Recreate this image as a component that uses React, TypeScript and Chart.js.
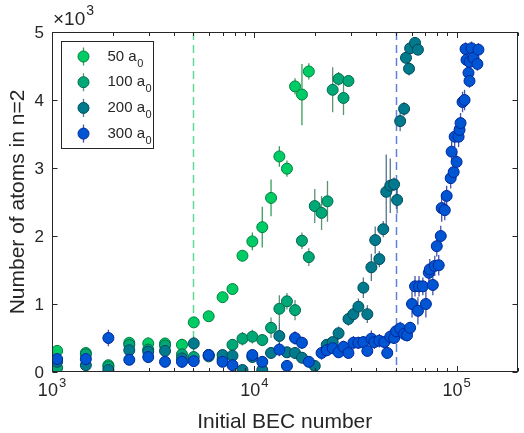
import React, { useEffect, useRef } from 'react';
import { Chart, registerables } from 'chart.js';

Chart.register(...registerables);

const FONT = '"Liberation Sans", Arial, Helvetica, sans-serif';
const AXIS = '#262626';

// ---- data ----
const legendNumbers = ['50', '100', '200', '300'];
const seriesLabels = ['50 a₀', '100 a₀', '200 a₀', '300 a₀'];

const n50 = [1060, 1470, 1900, 2410, 2990, 3620, 4390, 5020, 5950, 6970, 7800, 8740, 9780, 10950, 12100, 13300, 14500, 15900, 17200, 18600];
const y50 = [310, 280, 100, 430, 420, 420, 400, 730, 820, 1100, 1220, 1710, 1920, 2130, 2560, 3170, 2990, 4200, 4080, 4420];
const e50 = [80, 60, 60, 80, 90, 80, 90, 70, 70, 60, 60, 80, 130, 300, 270, 150, 120, 120, 450, 120];

const n100 = [1060, 1470, 1900, 2410, 2990, 3620, 4390, 5020, 5950, 6970, 7800, 8740, 9780, 10950, 12100, 13300, 14500, 15900, 17200, 18600, 19900, 21500, 23000, 24400, 26100, 27600, 29200];
const y100 = [60, 260, 80, 400, 330, 390, 260, 220, 250, 190, 400, 490, 520, 470, 650, 930, 1040, 910, 1930, 1690, 2440, 2340, 2510, 4150, 4310, 4030, 4280];
const e100 = [70, 80, 60, 70, 70, 70, 80, 90, 80, 80, 80, 100, 100, 90, 150, 200, 120, 150, 120, 130, 250, 250, 300, 330, 100, 250, 80];

const n200 = [1060, 1470, 1900, 2410, 2990, 3620, 4390, 5020, 5950, 6970, 7800, 8740, 9780, 10950, 12100, 13300, 14500, 15900, 17200, 19900, 22800, 24400, 26100, 29200, 30900, 32700, 34600, 36200, 37900, 39600, 41500, 43400, 44900, 47000, 49100, 50800, 52600, 55000, 56200, 58200, 58900, 62300, 64400];
const y200 = [150, 100, 30, 320, 300, 310, 200, 420, 230, 250, 240, 30, 220, 30, 280, 530, 290, 280, 210, 90, 400, 440, 570, 780, 850, 960, 1240, 850, 1540, 1940, 1660, 2100, 2650, 2740, 2760, 2530, 3690, 3870, 4620, 4460, 4760, 4840, 4740];
const e200 = [60, 70, 50, 60, 60, 70, 60, 100, 60, 60, 60, 40, 60, 40, 80, 200, 80, 80, 80, 60, 80, 80, 100, 100, 100, 120, 150, 130, 200, 200, 120, 120, 550, 400, 100, 200, 150, 100, 80, 100, 80, 60, 60];

const n300 = [1060, 1470, 1900, 2410, 2990, 3620, 4390, 5020, 5950, 6970, 7800, 9780, 10950, 13300, 14500, 15900, 17200, 18600, 21500, 22800, 24400, 26100, 27600, 29200, 30900, 32700, 34600, 36200, 37900, 39200, 41500, 43900, 45400, 47000, 49100, 50200, 52600, 55000, 56900, 58900, 60200, 62300, 64400, 65200, 68100, 70500, 72900, 73700, 76300, 78000, 79800, 81600, 83500, 84400, 87400, 89300, 93500, 94500, 96700, 97800, 100000, 102300, 103400, 104600, 107000, 109500, 110700, 111900, 114500, 115800, 116000, 118500, 121200, 126700, 128200];
const y300 = [190, 190, 500, 180, 220, 150, 150, 160, 250, 150, 100, 250, 150, 330, 90, 500, 430, 150, 280, 320, 350, 290, 370, 280, 430, 430, 440, 310, 490, 440, 460, 440, 280, 520, 500, 600, 640, 560, 540, 650, 1000, 1260, 900, 1260, 1260, 1000, 1460, 1510, 1280, 1560, 1850, 1570, 2000, 2410, 2380, 2590, 2850, 3240, 2940, 3460, 3090, 3460, 3560, 3660, 3970, 4000, 4750, 4590, 4400, 4280, 4560, 4760, 4620, 4530, 4740];
const e300 = [90, 90, 120, 80, 80, 80, 90, 80, 80, 80, 90, 80, 80, 100, 80, 100, 90, 80, 100, 90, 80, 80, 90, 80, 100, 90, 90, 80, 120, 100, 100, 90, 90, 100, 90, 100, 100, 100, 90, 90, 200, 150, 200, 150, 130, 200, 120, 150, 150, 150, 150, 150, 150, 200, 150, 150, 150, 150, 150, 150, 150, 150, 150, 150, 150, 150, 100, 100, 100, 100, 100, 100, 100, 100, 100];

const xMin = 1000;
const xMax = 200000;
const yMin = 0;
const yMax = 5000;
const yTickValues = [0, 1000, 2000, 3000, 4000, 5000];
const yTickLabels = ['0', '1', '2', '3', '4', '5'];
const xDecades = [1000, 10000, 100000];
const xDecadeExps = ['3', '4', '5'];
const refLinesX = [5000, 50000];

const xTitle = 'Initial BEC number';
const yTitle = 'Number of atoms in n=2';

// ---- styles ----
const fillColors = ['#00cc66', '#00a878', '#007a8c', '#0055d2'];
const edgeColors = ['#00803c', '#006a48', '#004a5a', '#00279a'];
const barColors = ['rgba(20,140,60,0.85)', 'rgba(40,110,70,0.75)', 'rgba(25,70,100,0.75)', 'rgba(20,40,150,0.8)'];
const refColors = ['#62d898', '#5a80e0'];

const series = [
  { n: n50, y: y50, e: e50 },
  { n: n100, y: y100, e: e100 },
  { n: n200, y: y200, e: e200 },
  { n: n300, y: y300, e: e300 },
];

const matlabPlugin = {
  id: 'matlabStyle',
  beforeDatasetsDraw(chart: any) {
    const { ctx, chartArea: a, scales } = chart;
    const x = scales.x;
    ctx.save();
    ctx.beginPath();
    ctx.rect(a.left, a.top, a.right - a.left, a.bottom - a.top);
    ctx.clip();
    ctx.setLineDash([8, 5]);
    ctx.lineWidth = 1.5;
    refLinesX.forEach((v, i) => {
      const px = Math.round(x.getPixelForValue(v)) + 0.5;
      ctx.strokeStyle = refColors[i];
      ctx.beginPath();
      ctx.moveTo(px, a.top);
      ctx.lineTo(px, a.bottom);
      ctx.stroke();
    });
    ctx.restore();
  },
  beforeDatasetDraw(chart: any, args: any) {
    const { ctx, chartArea: a, scales } = chart;
    const s = series[args.index];
    if (!s) return;
    ctx.save();
    ctx.beginPath();
    ctx.rect(a.left, a.top, a.right - a.left, a.bottom - a.top);
    ctx.clip();
    ctx.strokeStyle = barColors[args.index];
    ctx.lineWidth = 1.3;
    s.n.forEach((n, j) => {
      const err = s.e[j] ?? 0;
      const px = scales.x.getPixelForValue(n);
      const y1 = scales.y.getPixelForValue(s.y[j] - err);
      const y2 = scales.y.getPixelForValue(s.y[j] + err);
      ctx.beginPath();
      ctx.moveTo(px, y1);
      ctx.lineTo(px, y2);
      ctx.stroke();
    });
    ctx.restore();
  },
  afterDraw(chart: any) {
    const { ctx, chartArea: a, scales } = chart;
    const x = scales.x;
    const y = scales.y;
    ctx.save();
    ctx.strokeStyle = AXIS;
    ctx.fillStyle = AXIS;
    ctx.lineWidth = 1;
    const L = Math.round(a.left) + 0.5;
    const R = Math.round(a.right) - 0.5;
    const T = Math.round(a.top) + 0.5;
    const B = Math.round(a.bottom) - 0.5;
    ctx.strokeRect(L, T, R - L, B - T);

    // y ticks
    yTickValues.forEach((v) => {
      const py = Math.round(y.getPixelForValue(v)) + 0.5;
      ctx.beginPath();
      ctx.moveTo(L, py); ctx.lineTo(L + 5, py);
      ctx.moveTo(R, py); ctx.lineTo(R - 5, py);
      ctx.stroke();
    });
    // x ticks (major + minor)
    xDecades.forEach((d) => {
      for (let m = 1; m <= 9; m++) {
        const v = d * m;
        if (v < xMin || v > xMax) continue;
        const px = Math.round(x.getPixelForValue(v)) + 0.5;
        const len = m === 1 ? 5.5 : 3.5;
        ctx.beginPath();
        ctx.moveTo(px, B); ctx.lineTo(px, B - len);
        ctx.moveTo(px, T); ctx.lineTo(px, T + len);
        ctx.stroke();
      }
    });

    // y tick labels
    ctx.font = `17px ${FONT}`;
    ctx.textAlign = 'right';
    ctx.textBaseline = 'middle';
    yTickValues.forEach((v, i) => {
      ctx.fillText(yTickLabels[i], a.left - 8, y.getPixelForValue(v) + 1);
    });
    // exponent multiplier
    ctx.textAlign = 'left';
    ctx.textBaseline = 'alphabetic';
    ctx.font = `19px ${FONT}`;
    ctx.fillText('×10', a.left + 1, a.top - 7);
    const wm = ctx.measureText('×10').width;
    ctx.font = `14px ${FONT}`;
    ctx.fillText('3', a.left + 1 + wm + 1, a.top - 17);

    // x tick labels
    xDecades.forEach((d, i) => {
      const px = x.getPixelForValue(d);
      ctx.font = `18px ${FONT}`;
      const wb = ctx.measureText('10').width;
      ctx.font = `13px ${FONT}`;
      const we = ctx.measureText(xDecadeExps[i]).width;
      const start = px - (wb + we + 1) / 2;
      ctx.font = `18px ${FONT}`;
      ctx.textAlign = 'left';
      ctx.fillText('10', start, a.bottom + 24);
      ctx.font = `13px ${FONT}`;
      ctx.fillText(xDecadeExps[i], start + wb + 1, a.bottom + 15);
    });

    // axis titles
    ctx.font = `21px ${FONT}`;
    ctx.textAlign = 'center';
    ctx.textBaseline = 'middle';
    ctx.fillText(xTitle, (a.left + a.right) / 2, a.bottom + 50);
    ctx.save();
    ctx.translate(18, (a.top + a.bottom) / 2);
    ctx.rotate(-Math.PI / 2);
    ctx.fillText(yTitle, 0, 0);
    ctx.restore();

    // legend
    const lx = 61.5, ly = 41.5, lw = 92, lh = 107;
    ctx.fillStyle = '#ffffff';
    ctx.fillRect(lx, ly, lw, lh);
    ctx.strokeStyle = AXIS;
    ctx.strokeRect(lx, ly, lw, lh);
    legendNumbers.forEach((num, i) => {
      const cy = ly + 15 + i * 25.7;
      const cx = lx + 22;
      ctx.strokeStyle = barColors[i];
      ctx.lineWidth = 1.3;
      ctx.beginPath();
      ctx.moveTo(cx, cy - 9); ctx.lineTo(cx, cy + 9);
      ctx.stroke();
      ctx.beginPath();
      ctx.arc(cx, cy, 5.5, 0, Math.PI * 2);
      ctx.fillStyle = fillColors[i];
      ctx.fill();
      ctx.lineWidth = 1;
      ctx.strokeStyle = edgeColors[i];
      ctx.stroke();
      ctx.fillStyle = AXIS;
      ctx.textAlign = 'left';
      ctx.textBaseline = 'alphabetic';
      ctx.font = `15px ${FONT}`;
      const main = `${num} a`;
      ctx.fillText(main, lx + 46, cy + 4);
      const w = ctx.measureText(main).width;
      ctx.font = `11px ${FONT}`;
      ctx.fillText('0', lx + 46 + w + 0.5, cy + 10);
    });
    ctx.restore();
  },
};

export default function App() {
  const ref = useRef<HTMLCanvasElement | null>(null);
  useEffect(() => {
    document.body.style.margin = '0';
    const canvas = ref.current;
    if (!canvas) return;
    const chart = new Chart(canvas, {
      type: 'scatter',
      data: {
        datasets: series.map((s, i) => ({
          label: seriesLabels[i],
          data: s.n.map((n, j) => ({ x: n, y: s.y[j] })),
          backgroundColor: fillColors[i],
          borderColor: edgeColors[i],
          pointRadius: 5.5,
          pointHoverRadius: 5.5,
          pointBorderWidth: 1,
          order: 3 - i,
        })),
      },
      options: {
        animation: false,
        responsive: false,
        devicePixelRatio: 1,
        events: [],
        layout: { padding: { top: 32, right: 2, left: 0, bottom: 0 } },
        plugins: { legend: { display: false }, tooltip: { enabled: false } },
        scales: {
          x: {
            type: 'logarithmic',
            min: xMin,
            max: xMax,
            ticks: { display: false },
            grid: { display: false },
            border: { display: false },
            afterFit: (s: any) => { s.height = 61; },
          },
          y: {
            min: yMin,
            max: yMax,
            ticks: { display: false },
            grid: { display: false },
            border: { display: false },
            afterFit: (s: any) => { s.width = 52; },
          },
        },
      } as any,
      plugins: [matlabPlugin as any],
    });
    return () => chart.destroy();
  }, []);
  return (
    <div style={{ width: 524, height: 433 }}>
      <canvas ref={ref} width={524} height={433} style={{ display: 'block', width: 524, height: 433 }} />
    </div>
  );
}
